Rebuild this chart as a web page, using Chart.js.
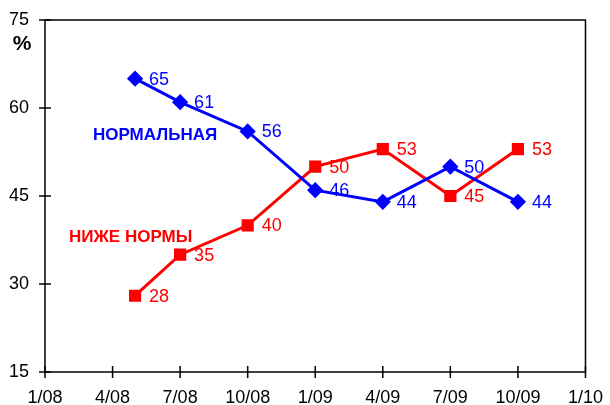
<!DOCTYPE html>
<html>
<head>
<meta charset="utf-8">
<script src="https://cdn.jsdelivr.net/npm/chart.js@4/dist/chart.umd.min.js"></script>
<style>
  html, body { margin: 0; padding: 0; background: #fff; }
  #wrap { width: 610px; height: 405px; }
</style>
</head>
<body>
<div id="wrap"><canvas id="chart"></canvas></div>
<script>
// months counted from 1/08
const months = [4, 6, 9, 12, 15, 18, 21];
const normal = [65, 61, 56, 46, 44, 50, 44];
const below = [28, 35, 40, 50, 53, 45, 53];
const xTickLabels = ['1/08', '4/08', '7/08', '10/08', '1/09', '4/09', '7/09', '10/09', '1/10'];
const yTicks = [15, 30, 45, 60, 75];

const FONT = 'Arial, "Liberation Sans", sans-serif';

// frame, crossing ticks, value labels and series names
const decor = {
  id: 'decor',
  afterDatasetsDraw(chart) {
    const ctx = chart.ctx;
    const a = chart.chartArea;
    const xs = chart.scales.x, ys = chart.scales.y;
    ctx.save();
    ctx.strokeStyle = '#000';
    ctx.lineWidth = 1.5;
    ctx.strokeRect(a.left, a.top, a.right - a.left, a.bottom - a.top);
    ctx.beginPath();
    for (let i = 0; i < xTickLabels.length; i++) {
      const x = xs.getPixelForValue(i * 3);
      ctx.moveTo(x, a.bottom - 6);
      ctx.lineTo(x, a.bottom + 6);
    }
    yTicks.forEach(v => {
      const y = ys.getPixelForValue(v);
      ctx.moveTo(a.left - 6, y);
      ctx.lineTo(a.left + 6, y);
    });
    ctx.stroke();

    // value labels
    ctx.font = '18px ' + FONT;
    ctx.textAlign = 'left';
    ctx.textBaseline = 'middle';
    chart.data.datasets.forEach((ds, di) => {
      const meta = chart.getDatasetMeta(di);
      ctx.fillStyle = ds.borderColor;
      meta.data.forEach((pt, i) => {
        ctx.fillText(String(ds.data[i].y), pt.x + 14, pt.y + 1);
      });
    });

    ctx.font = 'bold 17px ' + FONT;
    ctx.fillStyle = '#0000ff';
    ctx.fillText('НОРМАЛЬНАЯ', 93, 135);
    ctx.fillStyle = '#ff0000';
    ctx.fillText('НИЖЕ НОРМЫ', 69, 237);

    ctx.fillStyle = '#000';
    ctx.font = 'bold 21px ' + FONT;
    ctx.textAlign = 'center';
    ctx.fillText('%', 22, 44);
    ctx.restore();
  }
};

new Chart(document.getElementById('chart'), {
  type: 'line',
  data: {
    datasets: [
      {
        label: 'НОРМАЛЬНАЯ',
        data: months.map((m, i) => ({ x: m, y: normal[i] })),
        borderColor: '#0000ff',
        backgroundColor: '#0000ff',
        borderWidth: 3,
        pointStyle: 'rectRot',
        pointRadius: 6,
        pointHoverRadius: 6,
        tension: 0
      },
      {
        label: 'НИЖЕ НОРМЫ',
        data: months.map((m, i) => ({ x: m, y: below[i] })),
        borderColor: '#ff0000',
        backgroundColor: '#ff0000',
        borderWidth: 3,
        pointStyle: 'rect',
        pointRadius: 6.5,
        pointHoverRadius: 6.5,
        tension: 0
      }
    ]
  },
  options: {
    responsive: true,
    maintainAspectRatio: false,
    animation: false,
    events: [],
    layout: { padding: { top: 20, right: 21, left: 0, bottom: 0 } },
    plugins: { legend: { display: false }, tooltip: { enabled: false } },
    scales: {
      x: {
        type: 'linear',
        min: 0,
        max: 24,
        afterBuildTicks: s => { s.ticks = xTickLabels.map((_, i) => ({ value: i * 3 })); },
        afterFit: s => { s.height = 33; },
        ticks: {
          autoSkip: false,
          maxRotation: 0,
          padding: 7,
          color: '#000',
          font: { family: FONT, size: 18 },
          callback: v => xTickLabels[v / 3]
        },
        grid: { display: false },
        border: { display: false }
      },
      y: {
        min: 15,
        max: 75,
        afterBuildTicks: s => { s.ticks = yTicks.map(v => ({ value: v })); },
        afterFit: s => { s.width = 45; },
        ticks: {
          padding: 8,
          color: '#000',
          font: { family: FONT, size: 18 }
        },
        grid: { display: false },
        border: { display: false }
      }
    }
  },
  plugins: [decor]
});
</script>
</body>
</html>
